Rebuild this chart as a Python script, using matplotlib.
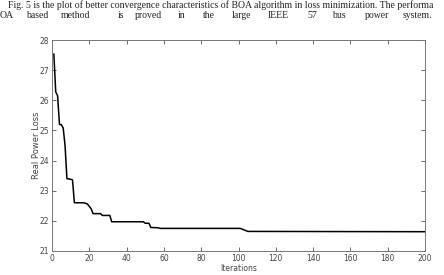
import matplotlib
matplotlib.use("Agg")
import matplotlib.pyplot as plt

# convergence data (iteration, real power loss)
iterations = [1, 2, 3, 4, 5, 6, 7, 8, 10, 11, 12, 17, 19, 21, 22, 26, 27, 31, 32,
              49, 50, 52, 53, 57, 58, 101, 103, 105, 200]
power_loss = [27.53, 26.28, 26.15, 25.2, 25.19, 25.08, 24.5, 23.4, 23.38, 23.36, 22.6,
              22.6, 22.56, 22.4, 22.24, 22.24, 22.18, 22.18, 21.97,
              21.97, 21.92, 21.92, 21.78, 21.77, 21.75, 21.75, 21.7, 21.65, 21.64]

x_ticks = [0, 20, 40, 60, 80, 100, 120, 140, 160, 180, 200]
y_ticks = [21, 22, 23, 24, 25, 26, 27, 28]

# page text above the figure, only the part visible in the crop
line1 = ("Fig. 5 is the plot of better convergence characteristics of BOA algorithm "
         "in loss minimization. The performa")
line2_words = ["OA", "based", "method", "is", "proved", "in", "the", "large",
               "IEEE", "57", "bus", "power", "system."]
line2_x = [0, 26, 61, 118, 135, 178, 203, 232, 268, 307, 332, 365, 403]  # pixel x

W, H = 444, 275
fig = plt.figure(figsize=(W / 100, H / 100), dpi=100)

serif = ["Liberation Serif", "DejaVu Serif"]
fig.text(8 / W, 1 - 5 / H, line1, family=serif, fontsize=7.0, va="center", ha="left",
         color="#222222")
for w, px in zip(line2_words, line2_x):
    fig.text(px / W, 1 - 16 / H, w, family=serif, fontsize=7.0, va="center", ha="left",
             color="#222222")

ax = fig.add_axes([52 / W, 24 / H, (425 - 52) / W, (251 - 40) / H])
ax.plot(iterations, power_loss, color="black", linewidth=1.1)

ax.set_xlim(0, 200)
ax.set_ylim(21, 28)
ax.set_xticks(x_ticks)
ax.set_yticks(y_ticks)

narrow = ["Liberation Sans Narrow", "DejaVu Sans"]
ax.tick_params(direction="in", length=3, width=0.6, colors="#555555",
               top=True, right=True, labelsize=5.5, pad=2)
for lab in ax.get_xticklabels() + ax.get_yticklabels():
    lab.set_family(narrow)
    lab.set_color("#444444")
for s in ax.spines.values():
    s.set_color("#777777")
    s.set_linewidth(0.7)

ax.set_xlabel("Iterations", family=narrow, fontsize=5.5, color="#444444", labelpad=1)
ax.set_ylabel("Real Power Loss", family=narrow, fontsize=6, color="#444444", labelpad=-1)

fig.savefig("out.png", dpi=100)
